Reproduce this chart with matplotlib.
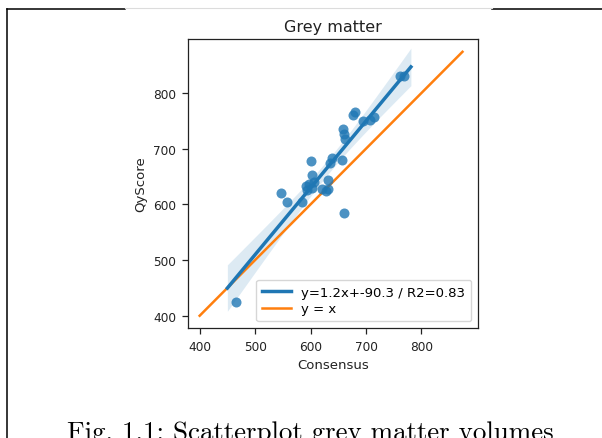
import numpy as np
import matplotlib
matplotlib.use("Agg")
import matplotlib.pyplot as plt
from matplotlib.lines import Line2D

# values
consensus = [466, 546, 558, 584, 591, 593, 597, 603, 606, 601, 603, 620, 627, 631,
             631, 635, 638, 657, 660, 658, 661, 662, 677, 680, 695, 708, 714, 762, 768]
qyscore = [424, 620, 605, 605, 633, 626, 636, 630, 640, 678, 652, 627, 624, 628,
           643, 674, 683, 680, 585, 735, 726, 717, 761, 766, 749, 751, 757, 830, 831]
slope, intercept, r2 = 1.2, -90.3, 0.83
reg_range = [450, 781]
identity_range = [400, 874]

W, H = 602, 439
fig = plt.figure(figsize=(W / 100, H / 100), dpi=100)
fig.patch.set_facecolor("white")

def px(x0, y0, x1, y1):
    return [x0 / W, 1 - y1 / H, (x1 - x0) / W, (y1 - y0) / H]

ax = fig.add_axes(px(188, 40, 478, 329))

x = np.array(consensus, float)
y = np.array(qyscore, float)

# regression line + analytic 95% band
xs = np.linspace(reg_range[0], reg_range[1], 100)
ys = slope * xs + intercept
resid = y - (slope * x + intercept)
s = np.sqrt(np.sum(resid ** 2) / (len(x) - 2))
se = s * np.sqrt(1 / len(x) + (xs - x.mean()) ** 2 / np.sum((x - x.mean()) ** 2))
ax.fill_between(xs, ys - 2.05 * se, ys + 2.05 * se, color="#1f77b4", alpha=0.15, lw=0)
ax.scatter(x, y, s=52, color="#1f77b4", alpha=0.8, lw=0, zorder=3)
ax.plot(xs, ys, color="#1f77b4", lw=2.5, zorder=4,
        label="y={}x+{} / R2={}".format(slope, intercept, r2))
ax.plot(identity_range, identity_range, color="#ff7f0e", lw=1.8, label="y = x")

ax.set_xlim(379, 902)
ax.set_ylim(378, 897)
ax.set_xticks([400, 500, 600, 700, 800])
ax.set_yticks([400, 500, 600, 700, 800])
ax.tick_params(labelsize=8.7, length=4.5, width=0.9, pad=4, colors="#222222")
for sp in ax.spines.values():
    sp.set_linewidth(0.9)
    sp.set_color("#222222")
ax.set_title("Grey matter", fontsize=11.5, pad=6, color="#222222")
ax.set_xlabel("Consensus", fontsize=9.5, labelpad=4, color="#222222")
ax.set_ylabel("QyScore", fontsize=9.5, labelpad=4, color="#222222")
ax.legend(loc="lower right", fontsize=9.5, handlelength=2.2, borderpad=0.45,
          labelspacing=0.3, framealpha=0.8)

# page frame from the document around the figure
def seg(x0, y0, x1, y1, color, lw):
    fig.add_artist(Line2D([x0 / W, x1 / W], [1 - y0 / H, 1 - y1 / H],
                          color=color, lw=lw, transform=fig.transFigure))

seg(7, 10, 125, 10, "black", 1.1)
seg(492, 10, 602, 10, "black", 1.1)
seg(125, 9, 492, 9, "#dcdcdc", 0.8)
seg(7, 10, 7, 439, "black", 1.1)

# caption, cut by the bottom edge as in the reference
fig.text(67 / W, 1 - 440 / H, "Fig. 1.1: Scatterplot grey matter volumes",
         family="cmr10", fontsize=19.4, ha="left", va="baseline")

fig.savefig("out.png", dpi=100)
